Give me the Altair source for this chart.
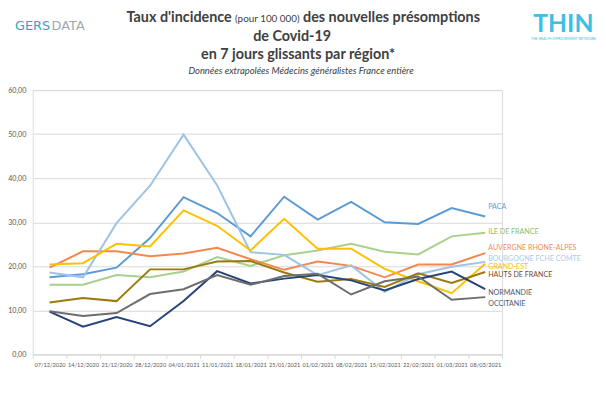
import altair as alt
import pandas as pd

dates = ["07/12/2020", "14/12/2020", "21/12/2020", "28/12/2020", "04/01/2021",
         "11/01/2021", "18/01/2021", "25/01/2021", "01/02/2021", "08/02/2021",
         "15/02/2021", "22/02/2021", "01/03/2021", "08/03/2021"]

regions = ["PACA", "ILE DE FRANCE", "AUVERGNE RHONE-ALPES", "BOURGOGNE FCHE COMTE",
           "GRAND-EST", "HAUTS DE FRANCE", "NORMANDIE", "OCCITANIE"]

paca = [17.5, 18.2, 19.7, 26.4, 35.7, 32.1, 26.8, 35.8, 30.6, 34.6, 30.0, 29.6, 33.2, 31.3]
ile_de_france = [15.8, 15.8, 18.0, 17.5, 18.8, 22.1, 20.1, 22.5, 23.6, 25.1, 23.3, 22.7, 26.8, 27.6]
auvergne = [19.7, 23.4, 23.4, 22.3, 22.9, 24.2, 21.6, 19.2, 21.1, 20.1, 17.5, 20.4, 20.4, 23.0]
bourgogne = [18.6, 17.5, 29.8, 38.3, 49.9, 38.4, 23.2, 22.6, 18.0, 20.2, 14.2, 18.2, 19.9, 21.0]
grand_est = [20.4, 20.7, 25.1, 24.5, 32.7, 29.2, 23.6, 30.8, 24.0, 24.0, 19.4, 16.6, 13.9, 20.6]
hauts_de_france = [11.8, 12.8, 12.1, 19.3, 19.3, 21.1, 21.2, 18.6, 16.5, 17.1, 15.3, 18.4, 16.2, 18.7]
normandie = [9.7, 6.3, 8.5, 6.4, 12.1, 18.9, 16.1, 17.2, 18.0, 16.8, 14.5, 17.1, 18.8, 14.8]
occitanie = [9.8, 8.7, 9.4, 13.7, 14.8, 18.0, 15.8, 17.8, 18.3, 13.6, 16.6, 17.7, 12.4, 13.0]

series = [paca, ile_de_france, auvergne, bourgogne, grand_est, hauts_de_france, normandie, occitanie]

line_colors = ["#5B9BD5", "#A9D18E", "#F4874B", "#9DC3E6", "#FFC000", "#9C7A0E", "#264478", "#6E6E6E"]
label_colors = ["#6A9BD0", "#8CC068", "#F08C50", "#A8CCEE", "#FFC000", "#7A4A2A", "#4F5A6E", "#4F5A6E"]
label_dy = [-10, -1, -5, -3, 3, 3, 4, 7]  # pixel shift of each end label

y_ticks = [0, 10, 20, 30, 40, 50, 60]

rows = []
for r, vals in zip(regions, series):
    for d, v in zip(dates, vals):
        rows.append({"date": d, "region": r, "value": v})
df = pd.DataFrame(rows)

W, H = 474, 267
PAD = {"left": 25, "top": 81, "right": 97, "bottom": 31}

labels_df = pd.DataFrame({
    "region": regions,
    "date": [dates[-1]] * len(regions),
    "value": [s[-1] for s in series],
    "dy": label_dy,
    "lc": label_colors,
})

x_enc = alt.X(
    "date:O", sort=dates, bandPosition=0.5,
    scale=alt.Scale(type="band", paddingInner=0, paddingOuter=0),
    axis=alt.Axis(title=None, labelAngle=0, labelFontSize=5.7, labelColor="#595959",
                  labelFont="Lato", tickBand="extent", tickColor="#D9D9D9", tickSize=4,
                  domainColor="#D9D9D9", labelOverlap=False, labelPadding=3, grid=False),
)
y_enc = alt.Y(
    "value:Q", scale=alt.Scale(domain=[0, 60]),
    axis=alt.Axis(title=None, values=y_ticks, format=".2f",
                  labelExpr="replace(datum.label, '.', ',')", labelFontSize=7.2,
                  labelFont="Lato", labelColor="#595959", domain=False, ticks=False,
                  gridColor="#D9D9D9", labelPadding=7),
)

lines = alt.Chart(df).mark_line(strokeWidth=2).encode(
    x=x_enc, y=y_enc,
    color=alt.Color("region:N", scale=alt.Scale(domain=regions, range=line_colors), legend=None),
)

labels = alt.Chart(labels_df).transform_calculate(
    ly=f"datum.value - datum.dy * 60 / {H}"
).mark_text(align="left", baseline="middle", dx=3, fontSize=7.2, font="Lato").encode(
    x=alt.X("date:O", sort=dates, bandPosition=0.5),
    y=alt.Y("ly:Q"),
    text="region:N",
    color=alt.Color("lc:N", scale=None),
)


def txt(text, x, y, size, color="#404040", weight="normal", align="center",
        style="normal", font="Lato"):
    return alt.Chart(pd.DataFrame({"t": [text]})).mark_text(
        align=align, baseline="middle", fontSize=size, fontWeight=weight,
        fontStyle=style, color=color, font=font,
    ).encode(text="t:N", x=alt.value(x), y=alt.value(y))


ox, oy = 33, 89  # page position of plot origin
titles = [
    txt("Taux d'incidence", 234 - ox, 16 - oy, 14.5, weight="bold", align="right"),
    txt("(pour 100 000)", 270 - ox, 17 - oy, 10, align="center"),
    txt("des nouvelles présomptions", 306 - ox, 16 - oy, 14.5, weight="bold", align="left"),
    txt("de Covid-19", 295 - ox, 35 - oy, 14.5, weight="bold"),
    txt("en 7 jours glissants par région*", 301 - ox, 54 - oy, 14.5, weight="bold"),
    txt("Données extrapolées Médecins généralistes France entière", 304 - ox, 70 - oy, 9.5,
        style="italic"),
    txt("GERS", 15 - ox, 24 - oy, 13, color="#2EA8B8", align="left", font="DejaVu Sans"),
    txt("DATA", 52 - ox, 24 - oy, 13, color="#A0A8B0", align="left", font="DejaVu Sans"),
    txt("THIN", 569 - ox, 22 - oy, 25, color="#3EBFE4", weight="bold"),
    txt("THE HEALTH IMPROVEMENT NETWORK", 569 - ox, 37 - oy, 3.5, color="#3EBFE4"),
]

chart = alt.layer(lines, labels, *titles).properties(
    width=W, height=H,
    autosize=alt.AutoSizeParams(type="none"),
    padding=PAD,
).configure_view(stroke=None).configure(background="white")

chart.save("out.html", embed_options={"renderer": "svg", "actions": False})
